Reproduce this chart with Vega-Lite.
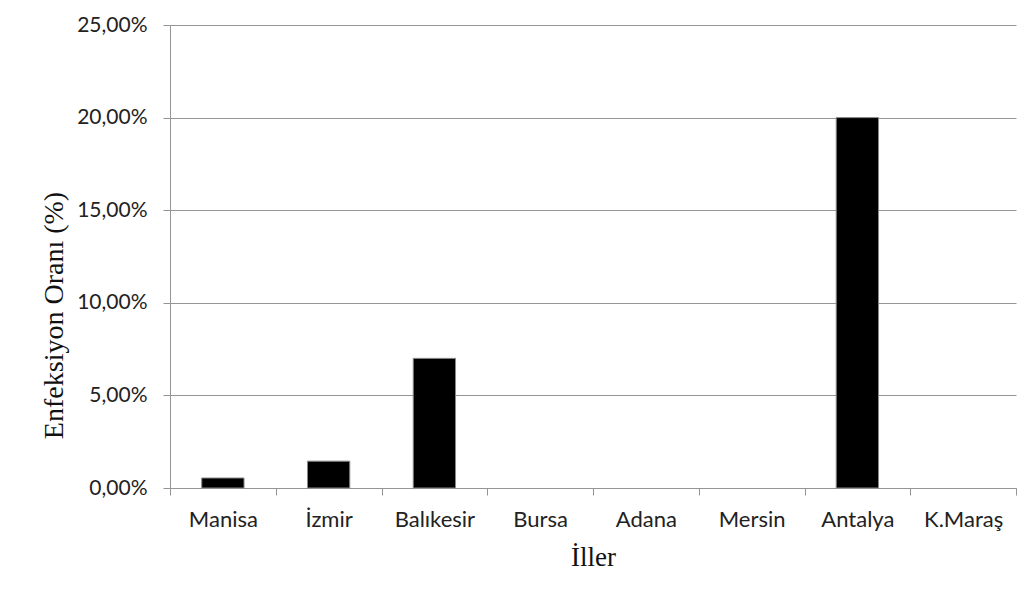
{
  "$schema": "https://vega.github.io/schema/vega-lite/v6.json",
  "autosize": {"type": "none"},
  "padding": {"left": 170, "top": 25, "right": 19, "bottom": 117},
  "width": 846,
  "height": 463,
  "background": "white",
  "config": {"view": {"stroke": null}},
  "data": {
    "values": [
      {"il": "Manisa", "oran": 0.0054},
      {"il": "İzmir", "oran": 0.0145},
      {"il": "Balıkesir", "oran": 0.07},
      {"il": "Bursa", "oran": 0},
      {"il": "Adana", "oran": 0},
      {"il": "Mersin", "oran": 0},
      {"il": "Antalya", "oran": 0.2},
      {"il": "K.Maraş", "oran": 0}
    ]
  },
  "mark": {"type": "bar", "color": "black", "strokeWidth": 1, "width": {"band": 0.4}},
  "encoding": {
    "stroke": {"condition": {"test": "datum.oran == 0", "value": null}, "value": "#8a8a8a"},
    "x": {
      "field": "il",
      "type": "nominal",
      "sort": null,
      "scale": {"paddingInner": 0, "paddingOuter": 0},
      "axis": {
        "title": "İller",
        "titleFont": "Liberation Serif",
        "titleFontSize": 27,
        "titleFontWeight": "normal",
        "titleColor": "#111",
        "titleBaseline": "alphabetic",
        "titleY": 77,
        "labelAngle": 0,
        "labelFont": "Lato",
        "labelFontSize": 22,
        "labelColor": "#222",
        "labelPadding": 14,
        "tickBand": "extent",
        "tickSize": 7,
        "tickColor": "#959595",
        "domainColor": "#959595",
        "grid": false
      }
    },
    "y": {
      "field": "oran",
      "type": "quantitative",
      "scale": {"domain": [0, 0.25], "nice": false},
      "axis": {
        "title": "Enfeksiyon Oranı (%)",
        "titleFont": "Liberation Serif",
        "titleFontSize": 28,
        "titleFontWeight": "normal",
        "titleColor": "#111",
        "titleAngle": -90,
        "titleAlign": "center",
        "titleBaseline": "alphabetic",
        "titleX": -108,
        "titleY": 290,
        "values": [0, 0.05, 0.1, 0.15, 0.2, 0.25],
        "labelExpr": "replace(format(datum.value, '.2%'), '.', ',')",
        "labelFont": "Lato",
        "labelFontSize": 21,
        "labelColor": "#222",
        "labelPadding": 16,
        "tickSize": 7,
        "tickColor": "#959595",
        "domainColor": "#959595",
        "grid": true,
        "gridColor": "#959595",
        "gridOpacity": 1
      }
    }
  }
}
